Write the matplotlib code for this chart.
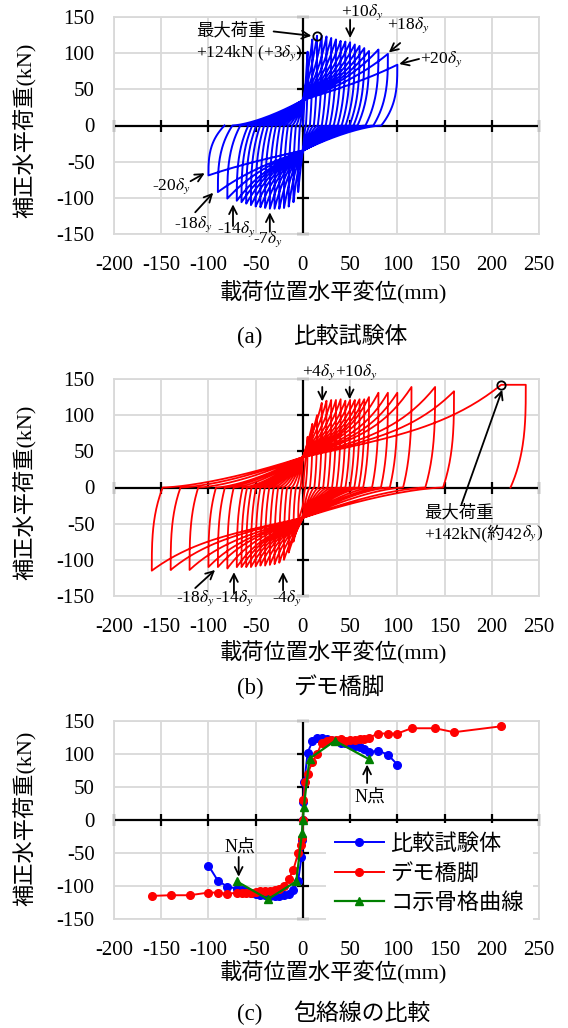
import numpy as np
import matplotlib
matplotlib.use('Agg')
import matplotlib.pyplot as plt

plt.rcParams['font.family'] = ['Liberation Serif', 'Noto Sans CJK JP']
plt.rcParams['mathtext.fontset'] = 'stix'
plt.rcParams['axes.unicode_minus'] = False

# ---- data ----
# comparison specimen (blue): peak of each cycle, mm / kN
blue_pos_x = [5, 10, 15, 20, 25, 30, 35, 40, 45, 50, 55, 60, 65, 70, 80, 90, 100]
blue_pos_y = [102, 119, 124, 124, 123, 121, 119, 117, 116, 115, 112, 110, 107, 103, 105, 99, 84]
blue_neg_x = [-5, -10, -15, -20, -25, -30, -35, -40, -45, -50, -55, -60, -65, -70, -80, -90, -100]
blue_neg_y = [-92, -106, -112, -114, -115, -115, -115, -114, -113, -112, -110, -108, -106, -104, -101, -92, -69]
blue_pre_pos_x = [0.5, 1.5]
blue_pre_pos_y = [28, 57]
blue_pre_neg_x = [-0.5, -1.5]
blue_pre_neg_y = [-30, -56]

# demo pier (red)
red_pos_x = [5, 10, 15, 20, 25, 30, 35, 40, 45, 50, 55, 60, 65, 70, 80, 90, 100, 115, 140, 160, 210]
red_pos_y = [70, 88, 100, 117, 120, 121, 121, 122, 120, 121, 121, 122, 122, 125, 131, 131, 131, 139, 139, 133, 142]
red_neg_x = [-5, -10, -15, -20, -25, -30, -35, -40, -45, -50, -55, -60, -65, -70, -80, -90, -100, -120, -140, -160]
red_neg_y = [-50, -75, -90, -100, -104, -106, -107, -108, -108, -109, -110, -110, -110, -110, -112, -110, -110, -114, -114, -115]
red_pre_pos_x = [0.5, 2.5]
red_pre_pos_y = [30, 57]
red_pre_neg_x = [-0.5, -2.5]
red_pre_neg_y = [-28, -38]
red_final_x = 236   # last push runs flat past the max before unloading

# skeleton curve of the specification (green)
green_x = [-70, -37, -7, -1, 0, 1, 7, 34, 70]
green_y = [-93, -120, -93, -20, 0, 20, 93, 120, 92]

W, H = 568, 1028
fig = plt.figure(figsize=(W / 100, H / 100), dpi=100)


def px_axes(left, top, right, bottom):
    return fig.add_axes([left / W, 1 - bottom / H, (right - left) / W, (bottom - top) / H])


def reload_branch(x0, x1, y1, c, m, q=1.5, n=90):
    # from (x0, 0) toward peak (x1, y1), pinched through about (0, c)
    U = abs(x1 - x0)
    s = np.sign(x1 - x0)
    F = abs(y1)
    u = np.linspace(0, U, n)
    z = abs(x0)
    if z < 1e-9 or z >= U:
        y = F * (u / U)
        return x0 + s * u, s * y
    c = min(c, 0.5 * F)
    V = U - z
    a = min(c / z, 0.85 * (F - c) / V)
    v = np.clip(u - z, 0, None)
    y = np.where(u < z, c * (np.minimum(u, z) / z) ** q,
                 c + a * v + (F - c - a * V) * (v / V) ** m)
    return x0 + s * u, s * y


def unload_branch(d, f, w, n=40):
    t = np.linspace(0, 1, n)
    return d - np.sign(d) * w * t ** 3, f * (1 - t)


def hysteresis(pos_x, pos_y, neg_x, neg_y, c, wa, wb, m, end_x=None):
    xs, ys = [np.array([0.0])], [np.array([0.0])]
    x0 = 0.0
    for i in range(len(pos_x)):
        d, f = pos_x[i], pos_y[i]
        bx, by = reload_branch(x0, d, f, c, m)
        xs.append(bx); ys.append(by)
        if end_x is not None and i == len(pos_x) - 1:
            xs.append(np.array([end_x])); ys.append(np.array([f]))
            d = end_x
        ux, uy = unload_branch(d, f, wa * abs(d) + wb)
        xs.append(ux); ys.append(uy)
        x0 = ux[-1]
        if i < len(neg_x):
            d, f = neg_x[i], neg_y[i]
            bx, by = reload_branch(x0, d, f, c, m)
            xs.append(bx); ys.append(by)
            ux, uy = unload_branch(d, f, wa * abs(d) + wb)
            xs.append(ux); ys.append(uy)
            x0 = ux[-1]
    return np.concatenate(xs), np.concatenate(ys)


def envelope(neg_x, neg_y, pre_neg_x, pre_neg_y, pre_pos_x, pre_pos_y, pos_x, pos_y):
    x = list(neg_x[::-1]) + list(pre_neg_x[::-1]) + [0] + list(pre_pos_x) + list(pos_x)
    y = list(neg_y[::-1]) + list(pre_neg_y[::-1]) + [0] + list(pre_pos_y) + list(pos_y)
    return x, y


def style(ax):
    ax.set_xlim(-200, 250)
    ax.set_ylim(-150, 150)
    xt = np.arange(-200, 251, 50)
    yt = np.arange(-150, 151, 50)
    ax.set_xticks(xt)
    ax.set_yticks(yt)
    ax.grid(True, color='#d9d9d9', lw=1.3)
    ax.set_axisbelow(True)
    for s in ax.spines.values():
        s.set_color('#d9d9d9')
        s.set_linewidth(1.3)
    ax.tick_params(axis='x', length=0, labelsize=15, pad=16)
    ax.tick_params(axis='y', length=0, labelsize=15, pad=14)
    ax.axhline(0, color='k', lw=1.6, zorder=1.5)
    ax.axvline(0, color='k', lw=1.6, zorder=1.5)
    ax.plot(xt, np.zeros_like(xt), ls='none', marker='|', ms=8, mew=1.6,
            color='k', zorder=1.5, clip_on=False)
    ax.plot(np.zeros_like(yt), yt, ls='none', marker='_', ms=8, mew=1.6,
            color='k', zorder=1.5, clip_on=False)


def arrow(ax, tail, head):
    ax.annotate('', xy=head, xytext=tail, annotation_clip=False,
                arrowprops=dict(arrowstyle='->', color='k', lw=1.3,
                                mutation_scale=14, shrinkA=0, shrinkB=0))


def labels(ycenter_label, ycenter_xl, ycenter_cap, tag, title):
    fig.text(25.5 / W, 1 - ycenter_label / H, '補正水平荷重(kN)', rotation=90,
             ha='center', va='center', fontsize=16)
    fig.text(333 / W, 1 - ycenter_xl / H, '載荷位置水平変位(mm)',
             ha='center', va='center', fontsize=16)
    fig.text(237 / W, 1 - ycenter_cap / H, tag, ha='left', va='center', fontsize=16.5)
    fig.text(293 / W, 1 - ycenter_cap / H, title, ha='left', va='center', fontsize=16.5)


ANN = 12.5

# ---- (a) comparison specimen ----
ax_a = px_axes(114, 17, 539, 234)
style(ax_a)
hx, hy = hysteresis(blue_pos_x, blue_pos_y, blue_neg_x, blue_neg_y, 35, 0.16, 1.0, 3)
ax_a.plot(hx, hy, color='#0000ff', lw=1.4, zorder=2)
k = int(np.argmax(blue_pos_y))
ax_a.plot(blue_pos_x[k], blue_pos_y[k], 'o', mfc='none', mec='k', ms=6, mew=1.3, zorder=3)
arrow(ax_a, (-31, 130), (9, 124))
ax_a.text(-113, 130, '最大荷重', ha='left', va='center', fontsize=ANN)
ax_a.text(-113, 100, '+124kN (+3$\\delta_y$)', ha='left', va='center', fontsize=ANN)
ax_a.text(40, 157, '+10$\\delta_y$', ha='left', va='center', fontsize=ANN)
arrow(ax_a, (50, 146), (50, 121))
ax_a.text(89, 139, '+18$\\delta_y$', ha='left', va='center', fontsize=ANN)
arrow(ax_a, (103, 114), (91, 101))
ax_a.text(124, 91, '+20$\\delta_y$', ha='left', va='center', fontsize=ANN)
arrow(ax_a, (123, 92), (102, 85))
ax_a.text(-160, -84, '-20$\\delta_y$', ha='left', va='center', fontsize=ANN)
arrow(ax_a, (-119, -77), (-104, -66))
ax_a.text(-137, -136, '-18$\\delta_y$', ha='left', va='center', fontsize=ANN)
arrow(ax_a, (-114, -120), (-95, -93))
ax_a.text(-91, -143, '-14$\\delta_y$', ha='left', va='center', fontsize=ANN)
arrow(ax_a, (-74, -139), (-74, -109))
ax_a.text(-53, -157, '-7$\\delta_y$', ha='left', va='center', fontsize=ANN)
arrow(ax_a, (-35, -147), (-35, -120))
labels(130, 293, 337, '(a)', '比較試験体')

# ---- (b) demo pier ----
ax_b = px_axes(114, 379, 539, 596)
style(ax_b)
hx, hy = hysteresis(red_pos_x, red_pos_y, red_neg_x, red_neg_y, 42, 0.06, 2.0, 4,
                    end_x=red_final_x)
ax_b.plot(hx, hy, color='#ff0000', lw=1.3, zorder=2)
k = int(np.argmax(red_pos_y))
ax_b.plot(red_pos_x[k], red_pos_y[k], 'o', mfc='none', mec='k', ms=6, mew=1.3, zorder=3)
ax_b.text(-1, 159, '+4$\\delta_y$', ha='left', va='center', fontsize=ANN)
ax_b.text(34, 159, '+10$\\delta_y$', ha='left', va='center', fontsize=ANN)
arrow(ax_b, (20.5, 139), (20.5, 119))
arrow(ax_b, (49.5, 139), (49.5, 122))
arrow(ax_b, (168, -23), (211, 135))
ax_b.text(128, -36, '最大荷重', ha='left', va='center', fontsize=ANN)
t1 = ax_b.text(128, -63, '+142kN(約42', ha='left', va='center', fontsize=ANN)
ax_b.annotate('$\\delta_y$)', xy=(1, 0.5), xycoords=t1, ha='left', va='center',
              fontsize=ANN)
ax_b.text(-134, -153, '-18$\\delta_y$', ha='left', va='center', fontsize=ANN)
ax_b.text(-93, -153, '-14$\\delta_y$', ha='left', va='center', fontsize=ANN)
ax_b.text(-33, -153, '-4$\\delta_y$', ha='left', va='center', fontsize=ANN)
arrow(ax_b, (-114, -139), (-93, -114))
arrow(ax_b, (-73, -146), (-73, -117))
arrow(ax_b, (-21, -142), (-21, -117))
labels(492, 653, 688, '(b)', 'デモ橋脚')

# ---- (c) envelope comparison ----
ax_c = px_axes(114, 721, 539, 919)
style(ax_c)
bx, by = envelope(blue_neg_x, blue_neg_y, blue_pre_neg_x, blue_pre_neg_y,
                  blue_pre_pos_x, blue_pre_pos_y, blue_pos_x, blue_pos_y)
rx, ry = envelope(red_neg_x, red_neg_y, red_pre_neg_x, red_pre_neg_y,
                  red_pre_pos_x, red_pre_pos_y, red_pos_x, red_pos_y)
ax_c.plot(bx, by, color='#0000ff', lw=1.4, marker='o', ms=5.5, label='比較試験体', zorder=2)
ax_c.plot(rx, ry, color='#ff0000', lw=1.4, marker='o', ms=5.5, label='デモ橋脚', zorder=2.1)
ax_c.plot(green_x, green_y, color='#008000', lw=1.6, marker='^', ms=5.5,
          label='コ示骨格曲線', zorder=2.2)
ax_c.text(71, 35, 'N点', ha='center', va='center', fontsize=13)
arrow(ax_c, (68, 56), (68, 84))
ax_c.text(-67, -41, 'N点', ha='center', va='center', fontsize=13)
arrow(ax_c, (-68, -56), (-68, -86))
leg = ax_c.legend(loc='upper left', bbox_to_anchor=(326 / W, 1 - 823 / H),
                  bbox_transform=fig.transFigure, borderaxespad=0, borderpad=0.4,
                  prop={'family': ['Noto Sans CJK JP'], 'size': 16},
                  handlelength=2.2, handletextpad=0.3, labelspacing=0.3,
                  frameon=True, fancybox=False)
leg.get_frame().set_edgecolor('none')
leg.get_frame().set_facecolor('white')
leg.get_frame().set_alpha(1)
labels(818, 973, 1014, '(c)', '包絡線の比較')

fig.savefig('out.png', dpi=100)
